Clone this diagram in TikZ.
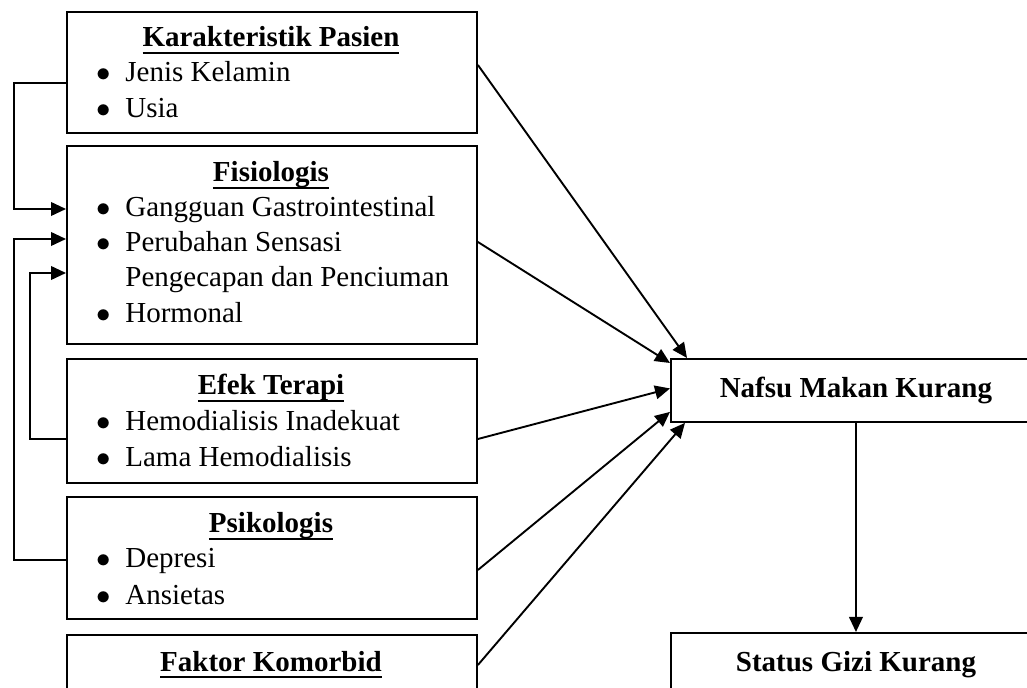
\documentclass[tikz,border=0pt]{standalone}
\usepackage{fontspec}
\setmainfont{Liberation Serif}
\usetikzlibrary{arrows.meta}

% underlined bold heading
\newcommand{\ulhead}[1]{\setbox0\hbox{\bfseries #1}\rlap{\copy0}\rule[-3.5pt]{\wd0}{0.9pt}}
\newcommand{\bul}{\makebox[13.5pt][l]{\hspace{-1pt}$\bullet$}}

\tikzset{
  box/.style={draw, line width=0.95pt, inner sep=0pt, anchor=north west, minimum width=205pt},
  head/.style={anchor=base, inner sep=0pt},
  item/.style={anchor=base west, inner sep=0pt},
  link/.style={line width=0.95pt, -{Triangle[length=7.5pt, width=6.8pt]}}
}

\begin{document}
\begin{tikzpicture}[x=0.5pt, y=-0.5pt, font=\fontsize{14.5pt}{17.5pt}\selectfont]
    \useasboundingbox (0,0) rectangle (1027,688);

    % faktor-faktor
    \node[box, minimum height=60.5pt] (kp) at (66,11) {};
    \node[box, minimum height=99pt] (fi) at (66,145) {};
    \node[box, minimum height=62pt] (et) at (66,358) {};
    \node[box, minimum height=61pt] (ps) at (66,496) {};
    \node[box, minimum height=30pt] (fk) at (66,634) {};

    \node[head] (kph) at (271,47) {\ulhead{Karakteristik Pasien}};
    \node[item] (jk) at (98,82) {\bul Jenis Kelamin};
    \node[item] (us) at (98,118) {\bul Usia};

    \node[head] (fih) at (271,182) {\ulhead{Fisiologis}};
    \node[item] (gg) at (98,217) {\bul Gangguan Gastrointestinal};
    \node[item] (pr) at (98,252) {\bul Perubahan Sensasi};
    \node[item] (pg) at (125,287) {Pengecapan dan Penciuman};
    \node[item] (hm) at (98,323) {\bul Hormonal};

    \node[head] (eth) at (271,395) {\ulhead{Efek Terapi}};
    \node[item] (hi) at (98,431) {\bul Hemodialisis Inadekuat};
    \node[item] (lh) at (98,467) {\bul Lama Hemodialisis};

    \node[head] (psh) at (271,533) {\ulhead{Psikologis}};
    \node[item] (dp) at (98,568) {\bul Depresi};
    \node[item] (an) at (98,604) {\bul Ansietas};

    \node[head] (fkh) at (271,671) {\ulhead{Faktor Komorbid}};

    % akibat
    \node[box, minimum width=185pt, minimum height=31.5pt] (nm) at (670,358) {\textbf{Nafsu Makan Kurang}};
    \node[box, minimum width=185pt, minimum height=32pt] (sg) at (670,632) {\textbf{Status Gizi Kurang}};

    % hubungan antar faktor
    \draw[link] ([yshift=-36pt]kp.north west) -- ++(-52,0) |- ([yshift=-32pt]fi.north west);
    \draw[link] ([yshift=-32pt]ps.north west) -- ++(-52,0) |- ([yshift=-47pt]fi.north west);
    \draw[link] ([yshift=-40.5pt]et.north west) -- ++(-36,0) |- ([yshift=-64pt]fi.north west);

    % ke nafsu makan
    \draw[link] ([yshift=-27pt]kp.north east) -- ([xshift=8.5pt]nm.north west);
    \draw[link] ([yshift=-48.5pt]fi.north east) -- ([yshift=-2.5pt]nm.north west);
    \draw[link] ([yshift=-40.5pt]et.north east) -- ([yshift=1pt]nm.west);
    \draw[link] ([yshift=-37pt]ps.north east) -- ([yshift=5.5pt]nm.south west);
    \draw[link] ([yshift=-15.5pt]fk.north east) -- ([xshift=7.5pt]nm.south west);

    \draw[link] (nm.south) -- (sg.north);
\end{tikzpicture}
\end{document}
